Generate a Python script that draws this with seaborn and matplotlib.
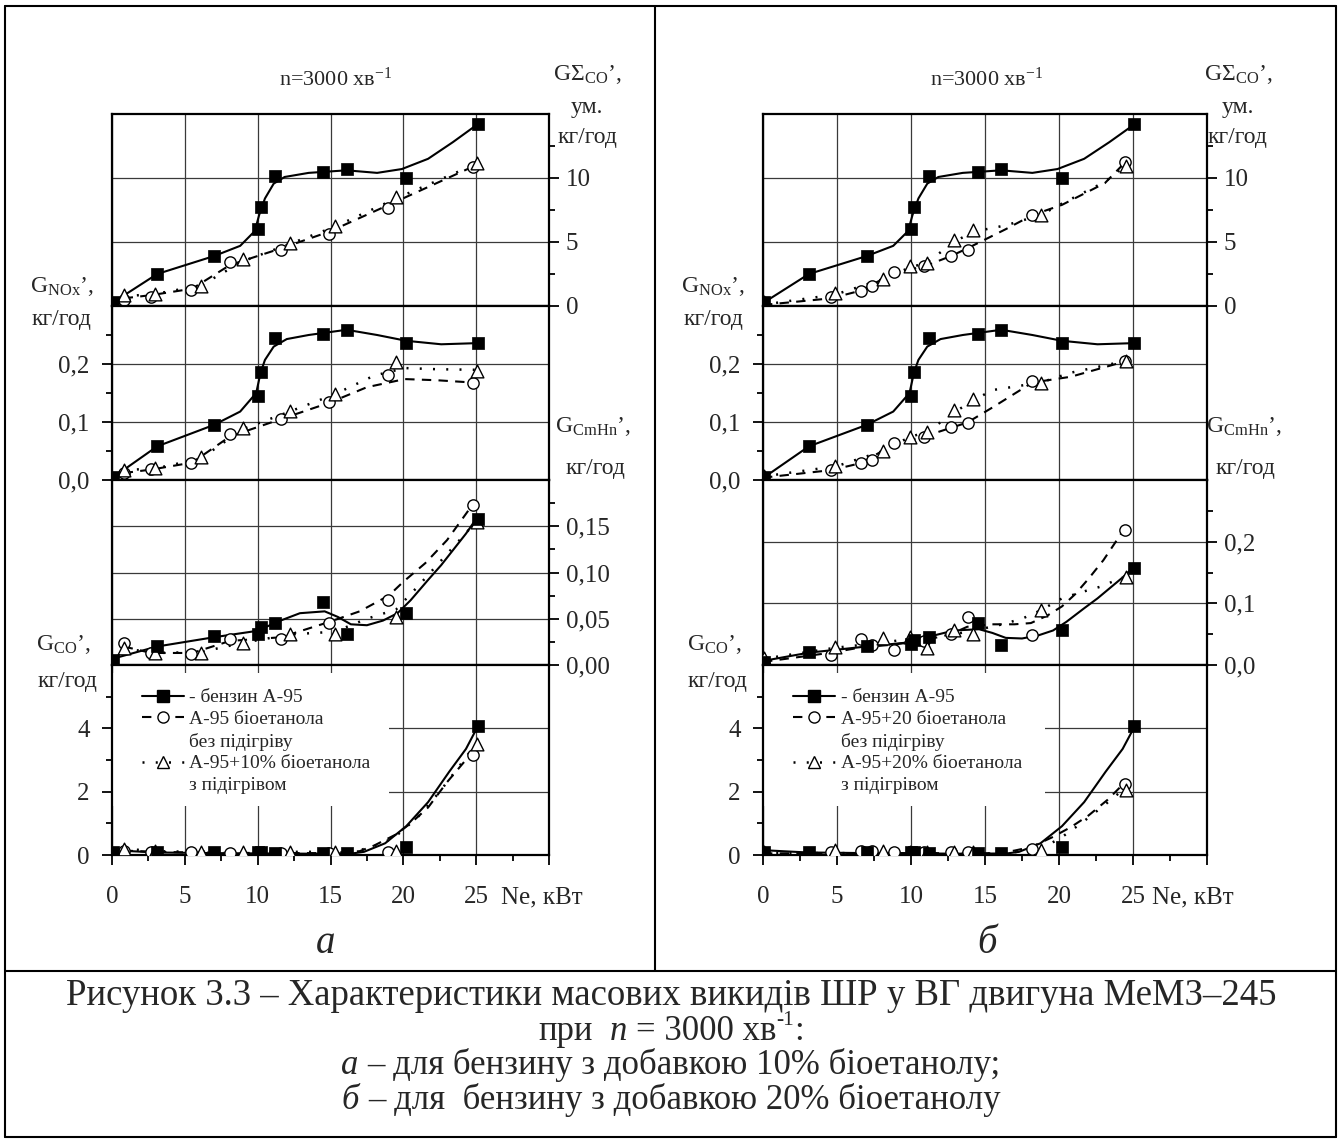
import numpy as np
import pandas as pd
import matplotlib
matplotlib.use("Agg")
import matplotlib.pyplot as plt
import seaborn as sns
from matplotlib.lines import Line2D
from matplotlib.patches import Rectangle

sns.set_theme(style="ticks")
plt.rcParams["font.family"] = ["Liberation Serif", "DejaVu Serif"]
plt.rcParams["mathtext.fontset"] = "custom"
plt.rcParams["mathtext.rm"] = "Liberation Serif"
plt.rcParams["mathtext.it"] = "Liberation Serif:italic"
plt.rcParams["mathtext.bf"] = "Liberation Serif:bold"

# ---------------- data: gasoline A-95 (same in both panels) ----------------
ne_g = [0.1, 3.1, 7.0, 10.0, 10.2, 11.2, 14.5, 16.1, 20.2, 25.1]
sum_g = [0.3, 2.5, 3.9, 6.0, 7.7, 10.15, 10.45, 10.7, 10.0, 14.2]
nox_g = [0.005, 0.059, 0.095, 0.144, 0.187, 0.244, 0.252, 0.259, 0.237, 0.236]
chn_g = [0.005, 0.021, 0.031, 0.034, 0.041, 0.045, 0.068, 0.033, 0.056, 0.158]
co_g = [0.10, 0.10, 0.08, 0.08, 0.08, 0.06, 0.05, 0.05, 0.25, 4.06]

# fitted curves (gasoline)
sum_g_cx = [0.1, 3.1, 7.0, 8.8, 9.8, 10.1, 10.5, 11.1, 11.85, 13.5, 16.1, 18.2, 19.9, 21.7, 23.4, 25.1]
sum_g_cy = [0.3, 2.5, 3.9, 4.7, 5.85, 7.1, 8.4, 9.56, 10.08, 10.4, 10.6, 10.4, 10.7, 11.5, 12.8, 14.2]
nox_g_cx = [0.1, 3.1, 7.0, 8.8, 9.9, 10.2, 10.5, 11.1, 12.0, 13.5, 16.1, 18.2, 20.2, 22.6, 25.1]
nox_g_cy = [0.005, 0.058, 0.095, 0.118, 0.15, 0.185, 0.207, 0.23, 0.243, 0.25, 0.259, 0.25, 0.24, 0.234, 0.236]
chn_g_cx = [0.1, 3.1, 7.0, 10.0, 11.4, 12.9, 14.6, 15.5, 16.4, 17.5, 18.6, 19.6, 20.5, 21.7, 22.6, 23.45, 24.3, 25.0]
chn_g_cy = [0.007, 0.02, 0.03, 0.037, 0.047, 0.056, 0.058, 0.052, 0.044, 0.043, 0.048, 0.056, 0.07, 0.092, 0.108, 0.125, 0.142, 0.158]
co_g_cx = [0.1, 3.0, 7.0, 10.0, 14.0, 16.5, 17.3, 18.75, 20.2, 21.7, 23.15, 24.3, 25.1]
co_g_cy = [0.15, 0.08, 0.06, 0.05, 0.04, 0.05, 0.10, 0.37, 0.91, 1.67, 2.63, 3.35, 4.05]

# ---------------- data: panel a (10 % bioethanol) ----------------
ne_a_c = [0.84, 2.66, 5.45, 8.1, 11.6, 14.9, 18.95, 24.8]
sum_a_c = [0.46, 0.7, 1.23, 3.4, 4.4, 5.6, 7.65, 10.85]
nox_a_c = [0.012, 0.019, 0.03, 0.08, 0.106, 0.134, 0.181, 0.168]
chn_a_c = [0.024, 0.013, 0.012, 0.028, 0.028, 0.045, 0.07, 0.173]
co_a_c = [0.14, 0.10, 0.08, 0.07, 0.07, 0.07, 0.10, 3.17]

ne_a_t = [0.84, 2.96, 6.1, 9.0, 12.2, 15.3, 19.5, 25.05]
sum_a_t = [0.85, 0.9, 1.56, 3.67, 4.9, 6.28, 8.54, 11.2]
nox_a_t = [0.018, 0.02, 0.039, 0.089, 0.119, 0.149, 0.204, 0.188]
chn_a_t = [0.018, 0.013, 0.013, 0.024, 0.034, 0.034, 0.052, 0.155]
co_a_t = [0.20, 0.12, 0.10, 0.10, 0.10, 0.10, 0.13, 3.52]

sum_a_dx = [0.8, 2.7, 5.5, 8.1, 11.6, 14.9, 19.0, 24.8]
sum_a_dy = [0.6, 0.85, 1.35, 3.2, 4.5, 5.8, 7.9, 10.9]
sum_a_ox = [0.8, 3.0, 6.1, 9.0, 12.2, 15.3, 19.5, 25.0]
sum_a_oy = [0.75, 0.95, 1.6, 3.5, 4.85, 6.2, 8.4, 11.1]
nox_a_dx = [0.8, 2.7, 5.5, 8.1, 11.6, 14.9, 17.5, 20.1, 22.3, 24.8]
nox_a_dy = [0.012, 0.018, 0.03, 0.075, 0.105, 0.133, 0.16, 0.174, 0.172, 0.168]
nox_a_ox = [0.8, 3.0, 6.1, 9.0, 12.2, 15.3, 18.0, 20.1, 22.3, 25.0]
nox_a_oy = [0.017, 0.02, 0.037, 0.088, 0.118, 0.148, 0.18, 0.193, 0.191, 0.19]
chn_a_dx = [0.8, 2.7, 5.5, 8.1, 11.6, 14.8, 17.0, 19.0, 20.0, 21.5, 23.0, 24.6]
chn_a_dy = [0.02, 0.013, 0.013, 0.026, 0.03, 0.046, 0.058, 0.075, 0.09, 0.11, 0.135, 0.17]
chn_a_ox = [0.8, 3.0, 6.1, 9.0, 12.2, 15.3, 17.5, 19.5, 21.0, 23.0, 25.0]
chn_a_oy = [0.018, 0.013, 0.014, 0.024, 0.033, 0.036, 0.05, 0.06, 0.085, 0.12, 0.155]
co_a_dx = [0.8, 3.0, 5.5, 8.0, 11.6, 14.8, 17.0, 18.0, 19.5, 20.5, 21.7, 23.0, 24.6]
co_a_dy = [0.14, 0.10, 0.08, 0.07, 0.06, 0.06, 0.12, 0.30, 0.65, 1.0, 1.5, 2.3, 3.17]
co_a_ox = [0.8, 3.0, 6.0, 9.0, 12.2, 15.3, 17.0, 18.5, 19.5, 21.0, 22.5, 24.0, 25.0]
co_a_oy = [0.20, 0.12, 0.10, 0.10, 0.10, 0.10, 0.15, 0.35, 0.6, 1.2, 2.0, 2.9, 3.52]

# ---------------- data: panel b (20 % bioethanol) ----------------
ne_b_c = [4.58, 6.63, 7.36, 8.87, 10.9, 12.7, 13.84, 18.17, 24.45]
sum_b_c = [0.72, 1.15, 1.54, 2.64, 3.1, 3.87, 4.36, 7.13, 11.28]
nox_b_c = [0.017, 0.029, 0.034, 0.064, 0.075, 0.092, 0.099, 0.171, 0.205]
chn_b_c = [0.016, 0.042, 0.032, 0.024, 0.039, 0.051, 0.078, 0.049, 0.219]
co_b_c = [0.10, 0.13, 0.12, 0.08, 0.08, 0.08, 0.10, 0.20, 2.25]

ne_b_t = [0.1, 4.87, 8.09, 9.93, 11.1, 12.9, 14.2, 18.75, 24.5]
sum_b_t = [0.3, 1.05, 2.13, 3.1, 3.36, 5.13, 5.9, 7.13, 10.97]
nox_b_t = [0.007, 0.025, 0.05, 0.075, 0.083, 0.12, 0.139, 0.168, 0.205]
chn_b_t = [0.011, 0.030, 0.043, 0.046, 0.028, 0.056, 0.05, 0.089, 0.142]
co_b_t = [0.10, 0.15, 0.12, 0.10, 0.10, 0.10, 0.10, 0.16, 2.05]

sum_b_dx = [0.0, 4.6, 6.6, 8.9, 10.9, 12.7, 13.8, 16.4, 18.2, 20.2, 23.1, 24.45]
sum_b_dy = [0.08, 0.6, 1.2, 2.6, 3.1, 3.9, 4.5, 6.0, 7.1, 7.9, 9.6, 11.2]
sum_b_ox = [0.0, 4.9, 8.1, 9.9, 11.1, 12.9, 14.2, 16.4, 18.75, 20.2, 23.1, 24.5]
sum_b_oy = [0.1, 0.9, 2.1, 3.0, 3.4, 5.0, 5.8, 6.3, 7.1, 8.0, 9.7, 10.97]
nox_b_dx = [0.0, 4.6, 6.6, 8.9, 10.9, 12.7, 13.8, 15.5, 18.2, 20.8, 24.4]
nox_b_dy = [0.004, 0.017, 0.029, 0.062, 0.075, 0.09, 0.099, 0.125, 0.168, 0.178, 0.204]
nox_b_ox = [0.0, 5.0, 8.1, 9.9, 11.1, 13.0, 14.2, 15.5, 18.75, 20.8, 24.45]
nox_b_oy = [0.006, 0.024, 0.05, 0.074, 0.083, 0.118, 0.137, 0.155, 0.168, 0.185, 0.205]
chn_b_dx = [0.0, 4.6, 6.5, 7.3, 8.8, 10.9, 12.7, 13.8, 15.5, 17.0, 18.1, 19.2, 20.2, 21.1, 22.0, 23.0, 23.7, 24.36]
chn_b_dy = [0.005, 0.02, 0.028, 0.03, 0.033, 0.04, 0.05, 0.062, 0.066, 0.066, 0.068, 0.08, 0.095, 0.115, 0.14, 0.17, 0.195, 0.219]
chn_b_ox = [0.0, 4.9, 8.0, 9.8, 11.0, 12.9, 14.1, 16.0, 17.5, 18.7, 20.2, 21.5, 22.8, 24.3]
chn_b_oy = [0.01, 0.028, 0.036, 0.042, 0.045, 0.05, 0.055, 0.065, 0.075, 0.088, 0.108, 0.118, 0.127, 0.142]
co_b_dx = [0.0, 4.6, 8.0, 11.0, 14.0, 16.0, 17.0, 18.1, 19.5, 20.8, 22.0, 23.3, 24.36]
co_b_dy = [0.05, 0.06, 0.06, 0.06, 0.05, 0.06, 0.14, 0.25, 0.55, 0.88, 1.25, 1.75, 2.25]
co_b_ox = [0.0, 4.9, 8.0, 11.0, 14.1, 16.0, 17.2, 18.7, 20.0, 21.5, 23.0, 24.3]
co_b_oy = [0.06, 0.06, 0.06, 0.05, 0.05, 0.05, 0.10, 0.20, 0.5, 1.0, 1.55, 2.05]

# ---------------- texts ----------------
legend_a = ["- бензин А-95", "А-95 біоетанола", "без підігріву", "А-95+10% біоетанола", "з підігрівом"]
legend_b = ["- бензин А-95", "А-95+20 біоетанола", "без підігріву", "А-95+20% біоетанола", "з підігрівом"]
# caption lines as (text, style) segments; "sup" = superscript, "sp" = number of spaces
caption = [
    [("Рисунок 3.3 – Характеристики масових викидів ШР у ВГ двигуна МеМЗ–245", "normal")],
    [("при", "normal"), (2, "sp"), ("n", "italic"), (1, "sp"), ("= 3000 хв", "normal"), ("-1", "sup"),
     (":", "normal")],
    [("а", "italic"), (1, "sp"), ("– для бензину з добавкою 10% біоетанолу;", "normal")],
    [("б", "italic"), (1, "sp"), ("– для  бензину з добавкою 20% біоетанолу", "normal")],
]
x_ticks = [0, 5, 10, 15, 20, 25]
x_labels = ["0", "5", "10", "15", "20", "25"]

W, H = 1343, 1142
fig = plt.figure(figsize=(W / 100, H / 100), dpi=100)
fig.patch.set_facecolor("white")


def fx(x):
    return x / W


def fy(y):
    return 1 - y / H


rows = [(114, 306), (306, 480), (480, 665), (665, 855)]
cols = [(112, 549), (763, 1207)]

# per row: side, ylim, major ticks, labels, minor ticks
row_cfg_a = [
    ("right", (0, 15), [0, 5, 10], ["0", "5", "10"], [2.5, 7.5, 12.5]),
    ("left", (0, 0.3), [0, 0.1, 0.2], ["0,0", "0,1", "0,2"], [0.05, 0.15, 0.25]),
    ("right", (0, 0.2), [0, 0.05, 0.10, 0.15], ["0,00", "0,05", "0,10", "0,15"], [0.025, 0.075, 0.125, 0.175]),
    ("left", (0, 6), [0, 2, 4], ["0", "2", "4"], [1, 3, 5]),
]
row_cfg_b = [
    row_cfg_a[0], row_cfg_a[1],
    ("right", (0, 0.3), [0, 0.1, 0.2], ["0,0", "0,1", "0,2"], [0.05, 0.15, 0.25]),
    row_cfg_a[3],
]

panel_a = [
    (sum_g, sum_g_cx, sum_g_cy, ne_a_c, sum_a_c, sum_a_dx, sum_a_dy, ne_a_t, sum_a_t, sum_a_ox, sum_a_oy),
    (nox_g, nox_g_cx, nox_g_cy, ne_a_c, nox_a_c, nox_a_dx, nox_a_dy, ne_a_t, nox_a_t, nox_a_ox, nox_a_oy),
    (chn_g, chn_g_cx, chn_g_cy, ne_a_c, chn_a_c, chn_a_dx, chn_a_dy, ne_a_t, chn_a_t, chn_a_ox, chn_a_oy),
    (co_g, co_g_cx, co_g_cy, ne_a_c, co_a_c, co_a_dx, co_a_dy, ne_a_t, co_a_t, co_a_ox, co_a_oy),
]
panel_b = [
    (sum_g, sum_g_cx, sum_g_cy, ne_b_c, sum_b_c, sum_b_dx, sum_b_dy, ne_b_t, sum_b_t, sum_b_ox, sum_b_oy),
    (nox_g, nox_g_cx, nox_g_cy, ne_b_c, nox_b_c, nox_b_dx, nox_b_dy, ne_b_t, nox_b_t, nox_b_ox, nox_b_oy),
    (chn_g, chn_g_cx, chn_g_cy, ne_b_c, chn_b_c, chn_b_dx, chn_b_dy, ne_b_t, chn_b_t, chn_b_ox, chn_b_oy),
    (co_g, co_g_cx, co_g_cy, ne_b_c, co_b_c, co_b_dx, co_b_dy, ne_b_t, co_b_t, co_b_ox, co_b_oy),
]

DASH = (0, (4.5, 3.5))
DOT = (0, (0.8, 4.5))
LW = 1.5
MS = 66
TICK_FS = 18


def draw(ax, d):
    (g_y, gcx, gcy, cx, cy, dx, dy, tx, ty, ox, oy) = d
    sns.lineplot(x=gcx, y=gcy, ax=ax, color="black", lw=LW, sort=False, estimator=None, zorder=2)
    sns.lineplot(x=dx, y=dy, ax=ax, color="black", lw=LW, sort=False, estimator=None,
                 linestyle=DASH, zorder=2)
    sns.lineplot(x=ox, y=oy, ax=ax, color="black", lw=LW + 0.3, sort=False, estimator=None,
                 linestyle=DOT, zorder=2)
    sns.scatterplot(x=ne_g, y=g_y, ax=ax, marker="s", s=MS, color="black", edgecolor="black",
                    linewidth=0.5, zorder=4)
    sns.scatterplot(x=cx, y=cy, ax=ax, marker="o", s=MS, color="white", edgecolor="black",
                    linewidth=1.0, zorder=3)
    sns.scatterplot(x=tx, y=ty, ax=ax, marker="^", s=MS + 18, color="white", edgecolor="black",
                    linewidth=1.0, zorder=3)


for ci, (cfgs, panel, legs) in enumerate([(row_cfg_a, panel_a, legend_a), (row_cfg_b, panel_b, legend_b)]):
    x0, x1 = cols[ci]
    for ri, (y0, y1) in enumerate(rows):
        side, ylim, maj, labs, mnr = cfgs[ri]
        ax = fig.add_axes([fx(x0), fy(y1), fx(x1 - x0), (y1 - y0) / H])
        ax.set_facecolor("white")
        ax.set_axisbelow(True)
        draw(ax, panel[ri])
        ax.set_xlim(0, 30)
        ax.set_ylim(*ylim)
        ax.set_xlabel("")
        ax.set_ylabel("")
        ax.set_xticks([0, 5, 10, 15, 20, 25, 30])
        ax.set_yticks(maj)
        ax.set_yticks(mnr, minor=True)
        ax.grid(True, which="major", color="#3a3a3a", lw=0.9)
        for s in ax.spines.values():
            s.set_visible(True)
            s.set_linewidth(1.6)
            s.set_color("black")
        if side == "right":
            ax.yaxis.tick_right()
            ax.yaxis.set_label_position("right")
            ax.tick_params(axis="y", which="both", left=False, right=True, labelleft=False,
                           labelright=True, pad=5)
        else:
            ax.tick_params(axis="y", which="both", left=True, right=False, labelleft=True,
                           labelright=False, pad=9)
        ax.set_yticklabels(labs)
        ax.tick_params(axis="y", which="major", length=7, width=1.3, labelsize=TICK_FS, color="black")
        ax.tick_params(axis="y", which="minor", length=4, width=1.3, color="black")
        if ri == 3:
            ax.set_xticks(x_ticks + [30])
            ax.set_xticklabels(x_labels + [""])
            ax.set_xticks([2.5, 7.5, 12.5, 17.5, 22.5, 27.5], minor=True)
            ax.tick_params(axis="x", which="major", length=7, width=1.3, labelsize=TICK_FS,
                           pad=15, bottom=True, color="black")
            ax.tick_params(axis="x", which="minor", length=4, width=1.3, bottom=True, color="black")
            ax.add_patch(Rectangle((0.0, 0.258), 0.635, 0.70, transform=ax.transAxes,
                                   facecolor="white", edgecolor="none", zorder=1))
            handles = [
                Line2D([], [], color="black", lw=LW, marker="s", ms=8, mfc="black", mec="black"),
                Line2D([], [], color="black", lw=LW, linestyle=DASH, marker="o", ms=8, mfc="white",
                       mec="black"),
                Line2D([], [], color="none"),
                Line2D([], [], color="black", lw=LW + 0.3, linestyle=DOT, marker="^", ms=9, mfc="white",
                       mec="black"),
                Line2D([], [], color="none"),
            ]
            ax.legend(handles, legs, loc="upper left", bbox_to_anchor=(0.068, 0.875),
                      frameon=False, fontsize=14, handlelength=2.15, handletextpad=0.3,
                      labelspacing=0.22, borderpad=0.0, borderaxespad=0.0)
        else:
            ax.tick_params(axis="x", which="both", bottom=False, top=False, labelbottom=False)

# ---------------- annotation texts ----------------
FS = 17
for off in (0, 651):
    fig.text(fx(336 + off), fy(86), "n=3000 хв$^{\\mathrm{-1}}$", fontsize=16, ha="center", va="baseline")
    xr = 587 + off
    fig.text(fx(xr), fy(80), "GΣ$_{\\mathrm{CO}}$’,", fontsize=FS, ha="center", va="baseline")
    fig.text(fx(xr), fy(113), "ум.", fontsize=FS, ha="center", va="baseline")
    fig.text(fx(xr), fy(143), "кг/год", fontsize=FS, ha="center", va="baseline")
    xl = 62 + off
    fig.text(fx(xl), fy(292), "G$_{\\mathrm{NOx}}$’,", fontsize=FS, ha="center", va="baseline")
    fig.text(fx(xl), fy(325), "кг/год", fontsize=FS, ha="center", va="baseline")
    fig.text(fx(xr + 6), fy(432), "G$_{\\mathrm{CmHn}}$’,", fontsize=FS, ha="center", va="baseline")
    fig.text(fx(xr + 8), fy(474), "кг/год", fontsize=FS, ha="center", va="baseline")
    fig.text(fx(xl + 2), fy(650), "G$_{\\mathrm{CO}}$’,", fontsize=FS, ha="center", va="baseline")
    fig.text(fx(xl + 5), fy(687), "кг/год", fontsize=FS, ha="center", va="baseline")
    fig.text(fx(499 + off + 2), fy(903), "Ne, кВт", fontsize=TICK_FS, ha="left", va="baseline")

fig.text(fx(326), fy(953), "а", fontsize=28, style="italic", ha="center", va="baseline")
fig.text(fx(987), fy(953), "б", fontsize=28, style="italic", ha="center", va="baseline")

# ---------------- caption: plain-text segments laid out line by line ----------------
renderer = fig.canvas.get_renderer()
cap_sizes = [26.5, 25, 25, 25]
baselines = [1005, 1040, 1074, 1109]
CX = 671
for line, fs, yb in zip(caption, cap_sizes, baselines):
    em = fs * 100 / 72.0
    items = []
    total = 0.0
    for txt, kind in line:
        if kind == "sp":
            items.append((None, txt * 0.25 * em))
            total += txt * 0.25 * em
            continue
        if kind == "sup":
            t = fig.text(0, fy(yb - 0.42 * em), txt, fontsize=fs * 0.62, ha="left", va="baseline")
        else:
            t = fig.text(0, fy(yb), txt, fontsize=fs, style=kind, ha="left", va="baseline")
        wdt = t.get_window_extent(renderer).width
        items.append((t, wdt))
        total += wdt
    xpos = CX - total / 2
    for t, wdt in items:
        if t is not None:
            t.set_x(fx(xpos))
        xpos += wdt


# ---------------- table frame ----------------
def hline(x0, x1, y, lw=1.5):
    fig.add_artist(Line2D([fx(x0), fx(x1)], [fy(y), fy(y)], color="black", lw=lw,
                          transform=fig.transFigure))


def vline(x, y0, y1, lw=1.5):
    fig.add_artist(Line2D([fx(x), fx(x)], [fy(y0), fy(y1)], color="black", lw=lw,
                          transform=fig.transFigure))


hline(5, 1336, 6)
hline(5, 1336, 1137)
hline(5, 1336, 971)
vline(5, 6, 1137)
vline(1336, 6, 1137)
vline(655, 6, 971)

fig.savefig("out.png", dpi=100, facecolor="white")
